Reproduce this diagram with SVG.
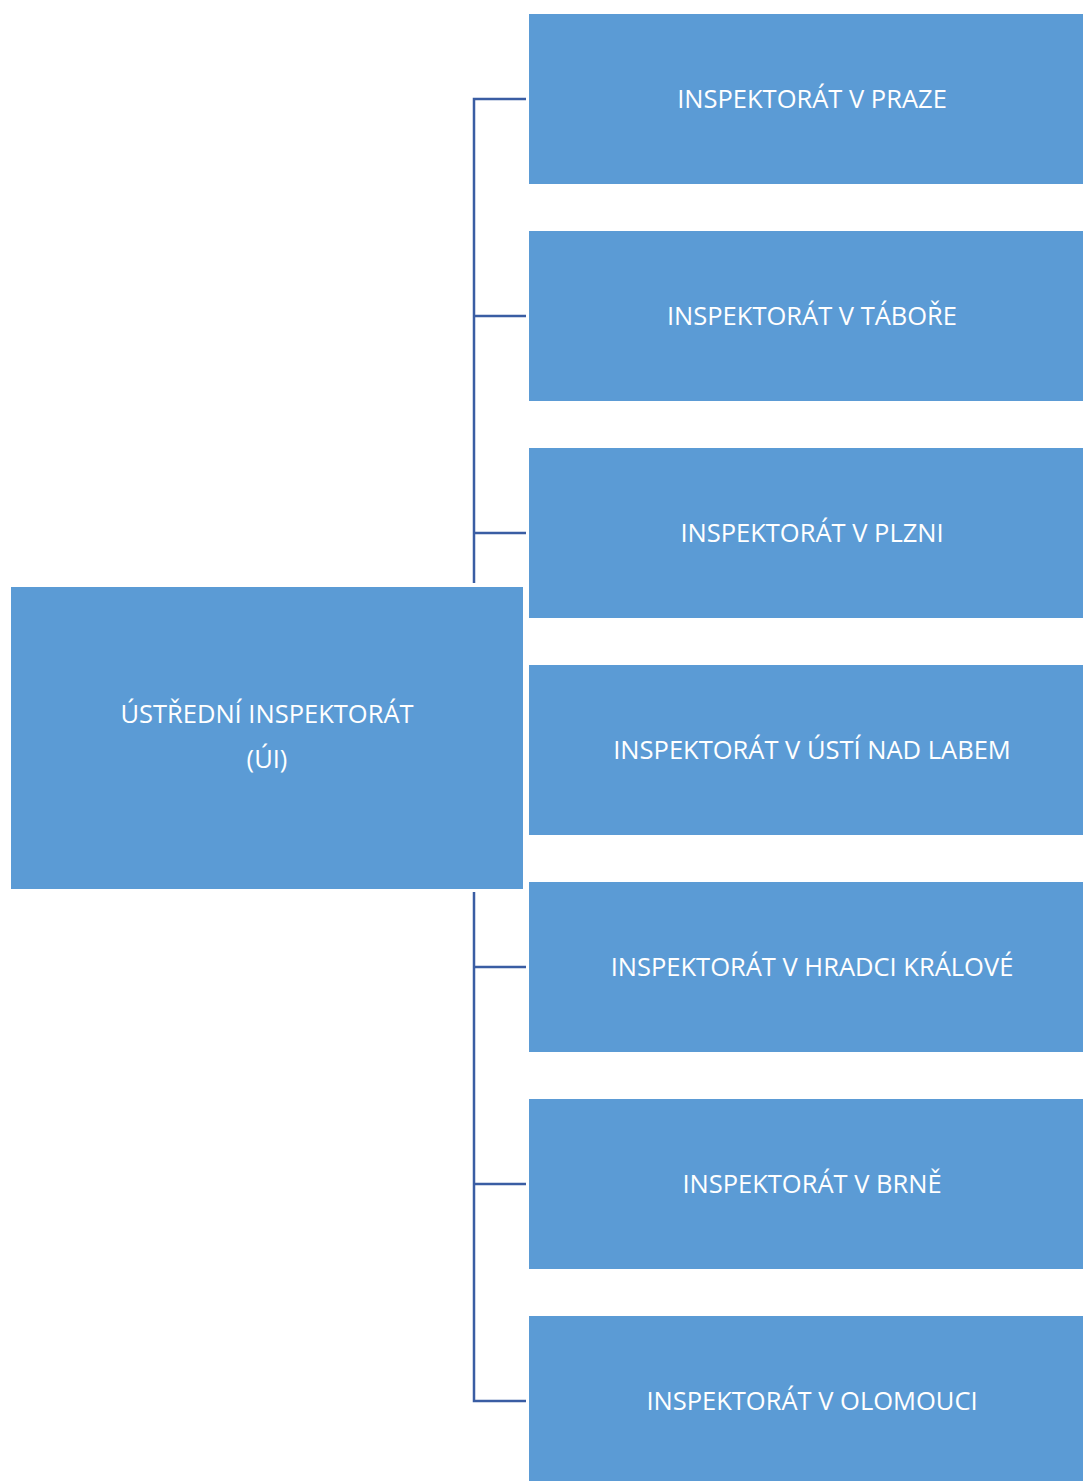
<svg xmlns="http://www.w3.org/2000/svg" width="1083" height="1481" viewBox="0 0 1083 1481">
<style>
.box{fill:#5B9BD5;}
.t{font-family:"Open Sans","Noto Sans","Liberation Sans",sans-serif;font-size:25.5px;fill:#FFFFFF;text-anchor:middle;}
.c{fill:none;stroke:#3A5DA3;stroke-width:2.5;}
</style>
<rect width="1083" height="1481" fill="#FFFFFF"/>
<g id="connectors">
<path class="c" d="M474,583 V99 H526 M474,316 H526 M474,533 H526"/>
<path class="c" d="M474,892 V1401 H526 M474,967 H526 M474,1184 H526"/>
</g>
<g id="main"><rect class="box" x="11" y="587" width="512" height="302"/><text class="t" x="267" y="723">ÚSTŘEDNÍ INSPEKTORÁT</text><text class="t" x="267" y="768">(ÚI)</text></g>
<g id="praha"><rect class="box" x="529" y="14" width="554" height="170"/><text class="t" x="812" y="108">INSPEKTORÁT V PRAZE</text></g>
<g id="tabor"><rect class="box" x="529" y="231" width="554" height="170"/><text class="t" x="812" y="325">INSPEKTORÁT V TÁBOŘE</text></g>
<g id="plzen"><rect class="box" x="529" y="448" width="554" height="170"/><text class="t" x="812" y="542">INSPEKTORÁT V PLZNI</text></g>
<g id="usti"><rect class="box" x="529" y="665" width="554" height="170"/><text class="t" x="812" y="759">INSPEKTORÁT V ÚSTÍ NAD LABEM</text></g>
<g id="hradec"><rect class="box" x="529" y="882" width="554" height="170"/><text class="t" x="812" y="976">INSPEKTORÁT V HRADCI KRÁLOVÉ</text></g>
<g id="brno"><rect class="box" x="529" y="1099" width="554" height="170"/><text class="t" x="812" y="1193">INSPEKTORÁT V BRNĚ</text></g>
<g id="olomouc"><rect class="box" x="529" y="1316" width="554" height="170"/><text class="t" x="812" y="1410">INSPEKTORÁT V OLOMOUCI</text></g>
</svg>
